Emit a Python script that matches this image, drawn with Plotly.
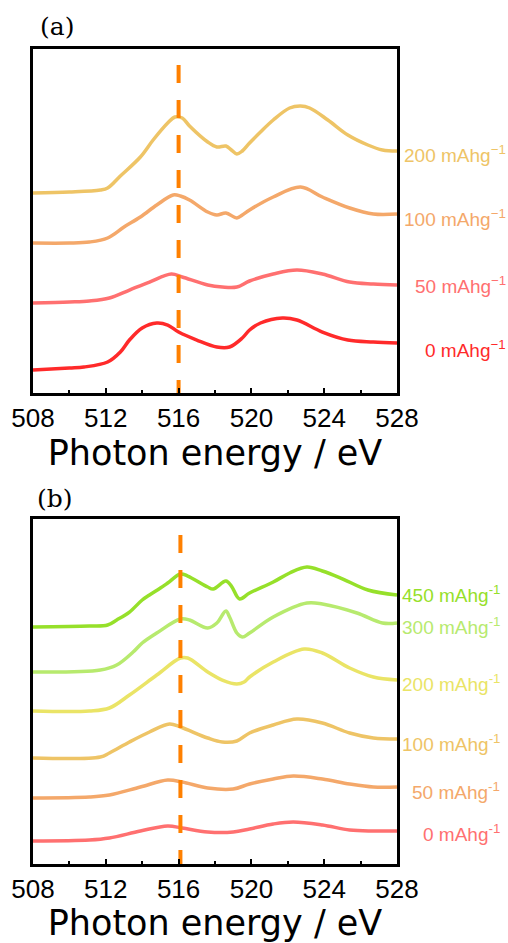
import plotly.graph_objects as go

# ---------------- Panel (a) data ----------------
rates_a = ["200", "100", "50", "0"]
colors_a = ["#EEC466", "#F4A86A", "#FF7070", "#FF2A2A"]
offsets_a = [200, 150, 90, 23]

E_a200 = [508.0, 510.0, 511.7, 512.1, 512.8, 513.9, 514.6, 515.4, 515.8, 516.2, 516.6, 517.6, 518.1, 518.6,
          518.9, 519.2, 519.5, 519.9, 520.5, 521.2, 522.1, 522.7, 523.2, 524.2, 525.3, 526.4, 527.2, 528.0]
I_a200 = [0, 1, 3, 5, 17, 36, 53, 70, 76, 75, 67, 51, 46, 47, 43, 39, 42, 50, 61, 73, 85, 87, 85, 73, 58, 48, 43, 42]

E_a100 = [508.0, 510.0, 511.1, 512.1, 513.0, 513.9, 514.8, 515.7, 516.1, 516.6, 517.6, 518.1, 518.6, 519.2,
          519.5, 519.9, 521.2, 522.7, 523.9, 525.4, 526.7, 528.0]
I_a100 = [0, 0, 1, 5, 16, 26, 38, 48, 47, 43, 31, 28, 30, 25, 28, 33, 46, 56, 46, 35, 29, 29]

E_a50 = [508.0, 510.0, 511.1, 512.2, 513.3, 514.4, 515.6, 516.2, 517.6, 518.4, 519.2, 519.9, 521.2, 522.5,
         523.9, 525.4, 526.7, 528.0]
I_a50 = [0, 1, 2, 5, 13, 21, 29, 26, 18, 16, 16, 22, 29, 33, 29, 21, 19, 18]

E_a0 = [508.0, 510.0, 510.8, 512.1, 512.8, 513.3, 514.0, 514.8, 515.4, 516.0, 517.0, 518.1, 518.8, 519.5,
        519.9, 520.5, 521.7, 522.5, 523.9, 525.3, 526.7, 528.0]
I_a0 = [0, 2, 3, 8, 18, 30, 42, 47, 45, 38, 30, 23, 23, 32, 40, 47, 52, 50, 38, 30, 28, 27]

# ---------------- Panel (b) data ----------------
rates_b = ["450", "300", "200", "100", "50", "0"]
colors_b = ["#96E02A", "#B7EA6E", "#EAE466", "#EEC466", "#F4A86A", "#FF7070"]
offsets_b = [237, 192, 153, 106, 66, 23]

E_b450 = [508.0, 511.1, 512.1, 512.6, 513.3, 514.0, 514.4, 515.0, 515.4, 516.1, 516.5, 517.6, 517.9, 518.6,
          518.9, 519.35, 519.9, 521.2, 522.1, 523.05, 523.9, 524.9, 526.4, 528.0]
I_b450 = [0, 1, 2, 7, 15, 27, 32, 39, 44, 53, 51, 40, 38, 46, 41, 28, 34, 45, 54, 60, 56, 49, 37, 32]

E_b300 = [508.0, 511.7, 512.6, 513.5, 514.0, 514.8, 516.1, 516.6, 517.6, 518.1, 518.6, 518.8, 519.2, 519.5,
          519.9, 521.2, 523.05, 523.9, 525.8, 527.2, 528.0]
I_b300 = [0, 2, 7, 20, 29, 39, 53, 52, 44, 49, 61, 55, 39, 35, 39, 55, 69, 68, 59, 49, 49]

E_b200 = [508.0, 511.1, 512.2, 513.3, 514.8, 516.1, 516.5, 517.6, 518.4, 519.2, 519.6, 519.9, 521.2, 522.9,
          523.9, 525.4, 526.7, 528.0]
I_b200 = [0, 0, 3, 16, 36, 53, 53, 39, 31, 27, 29, 34, 49, 62, 58, 43, 34, 31]

E_b100 = [508.0, 511.7, 512.2, 513.3, 514.4, 515.5, 516.1, 517.6, 518.4, 519.2, 519.9, 521.2, 522.5, 523.9,
          525.4, 526.7, 528.0]
I_b100 = [0, 1, 5, 16, 26, 34, 31, 20, 16, 17, 25, 33, 39, 35, 25, 20, 19]

E_b50 = [508.0, 511.1, 512.2, 513.9, 515.4, 516.2, 517.6, 519.0, 519.9, 521.2, 522.3, 523.9, 525.4, 526.7, 528.0]
I_b50 = [0, 1, 3, 11, 18, 16, 10, 9, 14, 19, 22, 19, 14, 11, 11]

E_b0 = [508.0, 511.1, 512.2, 513.9, 515.4, 516.2, 517.6, 519.0, 519.9, 521.2, 522.3, 523.9, 525.4, 526.7, 528.0]
I_b0 = [0, 1, 3, 10, 15, 13, 9, 9, 12, 17, 19, 16, 11, 10, 10]

ref_energy_a = 516.0
ref_energy_b = 516.1
tick_vals = [508, 512, 516, 520, 524, 528]
x_title = "Photon energy / eV"

curves_a = [(E_a200, I_a200), (E_a100, I_a100), (E_a50, I_a50), (E_a0, I_a0)]
curves_b = [(E_b450, I_b450), (E_b300, I_b300), (E_b200, I_b200), (E_b100, I_b100), (E_b50, I_b50), (E_b0, I_b0)]

# label vertical nudges (pixels)
label_shift_a = [-3, -4, 0, -6]
label_shift_b = [1, -3, -3, -4, -4, -2]

fig = go.Figure()
annotations = []

def add_panel(curves, offsets, colors, rates, shifts, xa, ya, ref_e, ytop, unit_minus, xlab):
    for (E, I), off, col, r, sh in zip(curves, offsets, colors, rates, shifts):
        yv = [v + off for v in I]
        fig.add_trace(go.Scatter(x=E, y=yv, mode="lines", xaxis=xa, yaxis=ya,
                                 line=dict(color=col, width=3.5, shape="spline", smoothing=1.0),
                                 showlegend=False, hoverinfo="skip"))
        annotations.append(dict(x=xlab, xref="paper", y=yv[-1], yref=ya, yshift=sh,
                                text=f"{r} mAhg<sup>{unit_minus}1</sup>", showarrow=False,
                                xanchor="right", yanchor="middle",
                                font=dict(family="Arial", size=19, color=col)))
    fig.add_trace(go.Scatter(x=[ref_e, ref_e], y=[ytop, 0], mode="lines", xaxis=xa, yaxis=ya,
                             line=dict(color="#FF8000", width=4, dash="18px,17px"),
                             showlegend=False, hoverinfo="skip"))

add_panel(curves_a, offsets_a, colors_a, rates_a, label_shift_a, "x", "y", ref_energy_a, 328, "\u2212", 1.3063)
add_panel(curves_b, offsets_b, colors_b, rates_b, label_shift_b, "x2", "y2", ref_energy_b, 329, "-", 1.2885)

annotations.append(dict(x=0.0137, y=1.028, xref="paper", yref="paper", text="(a)", showarrow=False,
                        xanchor="left", yanchor="middle", font=dict(family="DejaVu Serif", size=25, color="black")))
annotations.append(dict(x=0.0055, y=0.4479, xref="paper", yref="paper", text="(b)", showarrow=False,
                        xanchor="left", yanchor="middle", font=dict(family="DejaVu Serif", size=25, color="black")))

xax = dict(range=[508, 528], tickvals=tick_vals, ticks="inside", ticklen=5, tickwidth=2, tickcolor="black",
           minor=dict(dtick=2, tick0=508, ticks="inside", ticklen=3, tickwidth=2, tickcolor="black"),
           showline=True, linecolor="black", linewidth=2.5, mirror=True, showgrid=False, zeroline=False,
           tickfont=dict(family="Arial", size=26, color="black"),
           title=dict(text=x_title, font=dict(family="DejaVu Sans", size=35, color="black"), standoff=6))
yax = dict(showticklabels=False, ticks="", showline=True, linecolor="black", linewidth=2.5, mirror=True,
           showgrid=False, zeroline=False)

fig.update_layout(
    width=508, height=943,
    margin=dict(l=33, r=111, t=49, b=79, autoexpand=False),
    paper_bgcolor="white", plot_bgcolor="white",
    xaxis=dict(**xax, anchor="y"),
    xaxis2=dict(**xax, anchor="y2"),
    yaxis=dict(**yax, range=[0, 344], domain=[0.5779, 1.0], anchor="x"),
    yaxis2=dict(**yax, range=[0, 345], domain=[0.0, 0.4233], anchor="x2"),
    annotations=annotations,
)

fig.write_html("out.html", config={"displayModeBar": False},
               post_script="document.body.style.margin='0';document.body.style.overflow='hidden';")
